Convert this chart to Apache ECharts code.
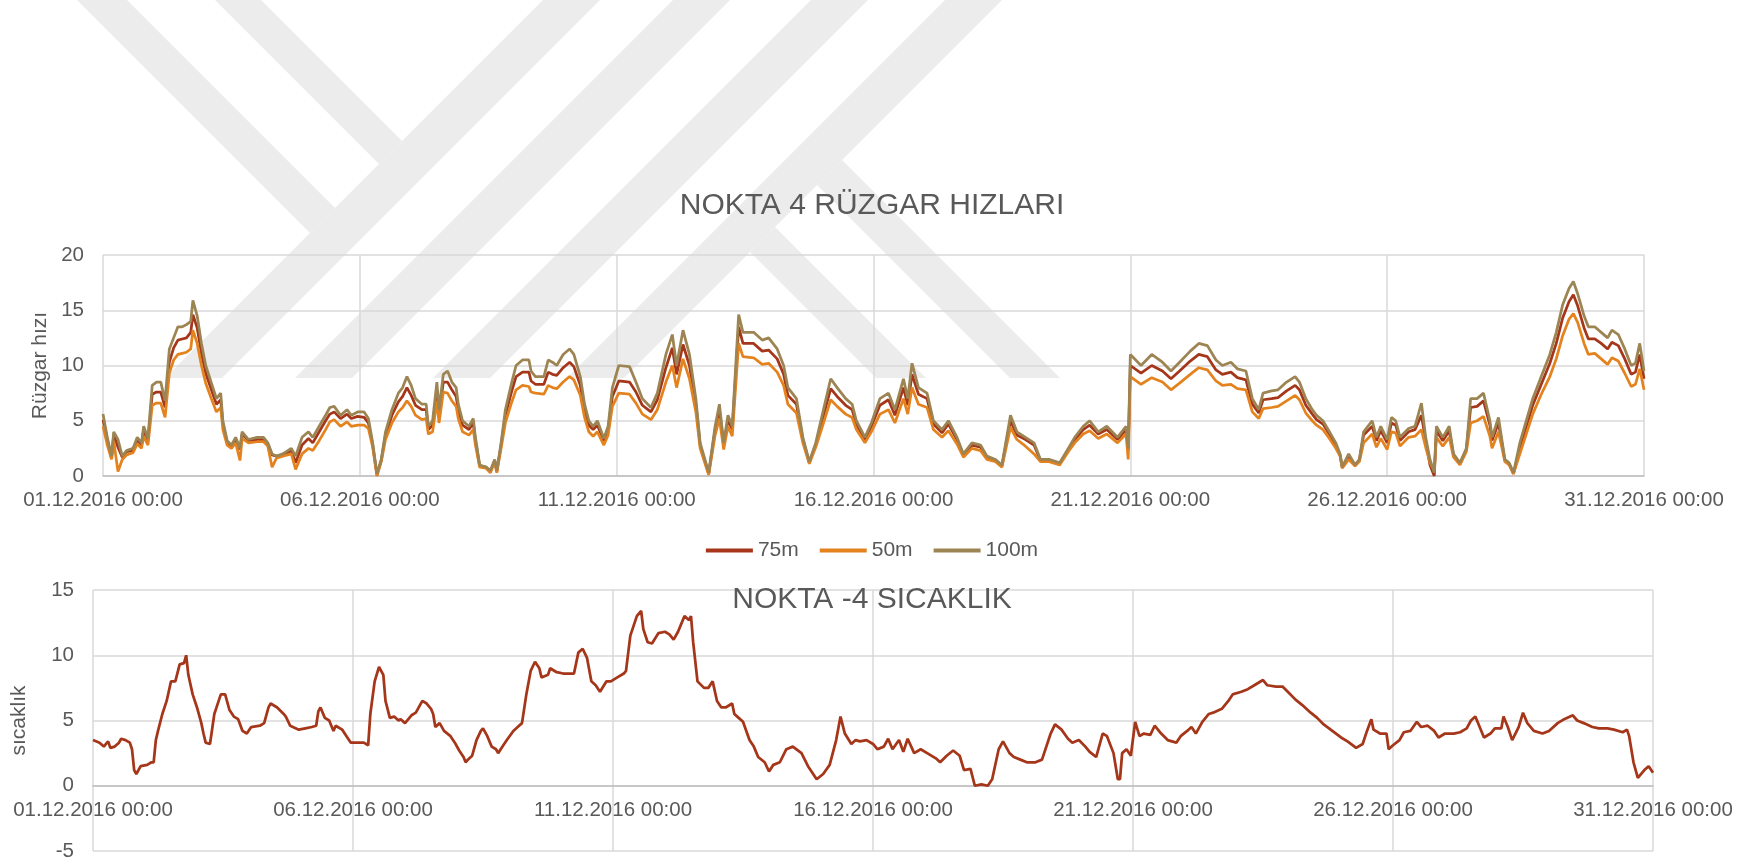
<!DOCTYPE html>
<html>
<head>
<meta charset="utf-8">
<title>NOKTA 4</title>
<script src="https://cdn.jsdelivr.net/npm/echarts@6/dist/echarts.min.js"></script>
<style>
  html, body { margin: 0; padding: 0; background: #fff; }
  #main { width: 1744px; height: 864px; }
</style>
</head>
<body>
<div id="main"></div>
<script>
// x ekseni: 01.12.2016 00:00'dan itibaren geçen saat (0..720)
const tickLabels = ['01.12.2016 00:00', '06.12.2016 00:00', '11.12.2016 00:00', '16.12.2016 00:00',
  '21.12.2016 00:00', '26.12.2016 00:00', '31.12.2016 00:00'];
const windNames = ['75m', '50m', '100m'];

const windHours = [
  0, 2, 4, 5, 7, 9, 11, 14, 16, 18,
  19, 21, 23, 25, 27, 29, 31, 33, 35, 37,
  39, 41, 42, 44, 46, 48, 51, 53, 55, 56,
  58, 60, 62, 64, 65, 68, 72, 75, 77, 79,
  81, 84, 88, 90, 93, 96, 98, 101, 104, 106,
  108, 111, 114, 116, 119, 122, 124, 126, 128, 130,
  132, 135, 138, 140, 142, 144, 146, 149, 151, 152,
  154, 156, 157, 159, 161, 163, 165, 166, 168, 171,
  173, 174, 176, 179, 181, 183, 184, 186, 188, 191,
  193, 196, 199, 200, 202, 206, 208, 210, 212, 215,
  218, 220, 223, 225, 227, 229, 231, 234, 236, 238,
  241, 246, 249, 252, 256, 259, 263, 266, 268, 271,
  274, 277, 279, 283, 286, 288, 290, 292, 294, 297,
  299, 304, 308, 311, 315, 318, 320, 324, 327, 330,
  333, 336, 340, 343, 347, 350, 352, 356, 359, 363,
  367, 370, 374, 376, 378, 381, 385, 388, 392, 395,
  399, 402, 406, 410, 413, 417, 420, 424, 427, 431,
  435, 438, 442, 447, 451, 454, 458, 461, 465, 469,
  474, 478, 479, 480, 485, 490, 495, 499, 503, 508,
  512, 516, 520, 523, 527, 530, 534, 537, 540, 542,
  546, 549, 553, 557, 559, 562, 565, 567, 570, 573,
  576, 578, 579, 582, 585, 587, 589, 593, 595, 597,
  600, 602, 604, 606, 610, 613, 616, 618, 620, 622,
  623, 626, 629, 631, 634, 637, 639, 642, 645, 648,
  649, 652, 655, 657, 659, 662, 665, 668, 672, 676,
  679, 682, 685, 687, 689, 692, 694, 697, 700, 703,
  705, 708, 711, 714, 716, 718, 720
];

const wind75 = [
  5.1, 3.3, 1.6, 3.7, 2.6, 1.7, 2.2, 2.3, 3.3, 2.8,
  4.2, 3.2, 7.4, 7.6, 7.6, 6.2, 10.3, 11.6, 12.3, 12.4,
  12.5, 13.0, 14.6, 13.4, 11.1, 9.3, 7.6, 6.5, 6.9, 4.7,
  3.0, 2.7, 3.3, 2.4, 3.8, 3.2, 3.3, 3.3, 2.9, 1.9,
  1.8, 1.9, 2.3, 1.2, 2.8, 3.4, 3.0, 4.0, 5.0, 5.6,
  5.8, 5.2, 5.6, 5.2, 5.4, 5.3, 4.8, 2.8, 0.1, 1.4,
  3.7, 5.5, 6.7, 7.2, 8.0, 7.3, 6.4, 6.0, 6.0, 4.2,
  4.6, 7.8, 5.5, 8.5, 8.5, 7.8, 7.2, 6.0, 4.6, 4.2,
  4.8, 3.2, 0.9, 0.8, 0.4, 1.4, 0.4, 2.8, 5.5, 7.7,
  9.0, 9.4, 9.4, 8.6, 8.3, 8.3, 9.4, 9.2, 9.1, 9.8,
  10.3, 9.9, 8.2, 6.0, 4.6, 4.2, 4.6, 3.2, 4.2, 7.2,
  8.6, 8.5, 7.6, 6.4, 5.8, 6.9, 9.8, 11.6, 9.2, 11.9,
  10.0, 6.5, 2.8, 0.2, 4.2, 6.0, 2.8, 5.1, 4.2, 13.5,
  12.0, 12.0, 11.3, 11.4, 10.6, 9.2, 7.3, 6.5, 3.3, 1.2,
  2.8, 5.0, 7.9, 7.2, 6.4, 6.0, 4.7, 3.3, 4.5, 6.4,
  6.9, 5.5, 8.0, 6.4, 9.2, 7.4, 7.0, 4.7, 3.9, 4.7,
  3.3, 1.9, 2.8, 2.6, 1.7, 1.4, 0.9, 5.0, 3.7, 3.3,
  2.8, 1.4, 1.4, 1.1, 2.4, 3.3, 4.2, 4.6, 3.8, 4.2,
  3.3, 4.2, 2.3, 10.0, 9.3, 10.0, 9.5, 8.8, 9.5, 10.4,
  11.0, 10.8, 9.6, 9.2, 9.4, 8.9, 8.7, 6.5, 5.7, 6.9,
  7.0, 7.1, 7.7, 8.2, 7.8, 6.4, 5.6, 5.1, 4.7, 3.8,
  2.8, 1.9, 0.8, 1.8, 1.0, 1.4, 3.7, 4.5, 3.2, 4.1,
  3.0, 4.8, 4.6, 3.2, 4.0, 4.2, 5.5, 3.2, 1.0, 0.0,
  4.1, 3.2, 4.1, 1.9, 1.1, 2.4, 6.2, 6.3, 6.8, 4.6,
  3.2, 4.8, 1.4, 1.1, 0.2, 2.5, 4.5, 6.4, 8.3, 10.2,
  12.0, 14.3, 15.8, 16.4, 15.4, 13.4, 12.4, 12.4, 12.0, 11.5,
  12.1, 11.8, 10.6, 9.2, 9.4, 11.0, 8.8
];

const wind50 = [
  4.5, 2.8, 1.5, 3.2, 0.4, 1.5, 1.9, 2.1, 2.9, 2.5,
  3.6, 2.8, 6.4, 6.6, 6.6, 5.3, 9.3, 10.5, 11.0, 11.1,
  11.2, 11.5, 13.2, 12.0, 10.0, 8.4, 6.8, 5.8, 6.2, 4.2,
  2.8, 2.5, 3.0, 1.4, 3.4, 3.0, 3.1, 3.1, 2.7, 0.8,
  1.6, 1.8, 2.0, 0.6, 2.0, 2.5, 2.3, 3.2, 4.2, 4.9,
  5.1, 4.5, 4.9, 4.5, 4.6, 4.6, 4.3, 2.6, 0.0, 1.3,
  3.3, 4.8, 5.8, 6.2, 6.8, 6.3, 5.5, 5.1, 5.2, 3.8,
  4.0, 6.8, 4.8, 7.6, 7.5, 6.8, 6.3, 5.2, 4.0, 3.7,
  4.2, 2.8, 0.8, 0.7, 0.3, 1.3, 0.3, 2.5, 4.8, 6.7,
  7.8, 8.2, 8.1, 7.6, 7.5, 7.4, 8.2, 8.0, 7.9, 8.5,
  9.0, 8.7, 7.3, 5.3, 4.0, 3.6, 4.0, 2.8, 3.7, 6.3,
  7.5, 7.4, 6.6, 5.6, 5.1, 6.0, 8.5, 10.0, 8.0, 10.6,
  8.8, 5.8, 2.5, 0.1, 3.7, 5.2, 2.4, 4.5, 3.6, 12.0,
  10.8, 10.7, 10.1, 10.2, 9.4, 8.2, 6.5, 5.7, 3.0, 1.1,
  2.6, 4.4, 6.9, 6.3, 5.6, 5.3, 4.2, 3.0, 4.0, 5.6,
  6.0, 4.8, 7.0, 5.6, 8.0, 6.5, 6.2, 4.2, 3.5, 4.1,
  2.9, 1.7, 2.5, 2.3, 1.5, 1.3, 0.8, 4.4, 3.3, 2.7,
  2.0, 1.3, 1.3, 1.0, 2.2, 3.0, 3.8, 4.1, 3.4, 3.8,
  3.0, 3.8, 1.5, 9.0, 8.3, 8.9, 8.5, 7.8, 8.4, 9.2,
  9.8, 9.6, 8.6, 8.2, 8.3, 7.9, 7.8, 5.8, 5.2, 6.1,
  6.2, 6.3, 6.8, 7.3, 6.9, 5.7, 5.0, 4.6, 4.2, 3.4,
  2.5, 1.8, 0.7, 1.5, 0.9, 1.3, 3.0, 3.8, 2.6, 3.4,
  2.4, 4.0, 3.9, 2.7, 3.5, 3.6, 4.2, 2.6, 1.2, 0.5,
  3.5, 2.7, 3.5, 1.7, 1.0, 2.2, 4.8, 5.0, 5.4, 3.6,
  2.5, 4.0, 1.3, 1.0, 0.2, 2.0, 3.8, 5.6, 7.4, 9.0,
  10.6, 12.7, 14.2, 14.7, 13.9, 12.0, 11.0, 11.1, 10.6, 10.1,
  10.7, 10.4, 9.3, 8.1, 8.3, 9.7, 7.8
];

const wind100 = [
  5.6, 3.5, 1.8, 4.0, 3.3, 1.8, 2.3, 2.5, 3.5, 3.0,
  4.5, 3.4, 8.2, 8.5, 8.5, 6.8, 11.5, 12.5, 13.5, 13.5,
  13.7, 14.0, 15.9, 14.5, 12.0, 10.0, 8.2, 7.0, 7.5, 5.0,
  3.2, 2.8, 3.5, 2.5, 4.0, 3.3, 3.5, 3.5, 3.0, 2.0,
  1.8, 2.0, 2.5, 1.8, 3.5, 4.0, 3.5, 4.5, 5.5, 6.2,
  6.3, 5.5, 6.0, 5.5, 5.8, 5.8, 5.2, 3.0, 0.2, 1.5,
  4.0, 6.0, 7.5, 8.0, 9.0, 8.2, 7.0, 6.5, 6.5, 4.5,
  5.0, 8.5, 6.0, 9.2, 9.5, 8.5, 8.0, 6.5, 5.0, 4.5,
  5.2, 3.5, 1.0, 0.8, 0.5, 1.5, 0.5, 3.0, 6.0, 8.5,
  10.0, 10.5, 10.5, 9.5, 9.0, 9.0, 10.5, 10.3, 10.0, 11.0,
  11.5, 11.0, 9.0, 6.5, 5.0, 4.5, 5.0, 3.4, 4.5, 8.0,
  10.0, 9.9, 8.5, 7.0, 6.2, 7.5, 11.0, 12.8, 10.0, 13.2,
  11.0, 7.0, 3.0, 0.3, 4.5, 6.5, 3.0, 5.5, 4.5, 14.6,
  13.0, 13.0, 12.3, 12.5, 11.5, 10.0, 8.0, 7.0, 3.5, 1.3,
  3.0, 5.5, 8.8, 8.0, 7.0, 6.5, 5.0, 3.5, 4.8, 7.0,
  7.5, 6.0, 8.8, 7.0, 10.2, 8.0, 7.5, 5.0, 4.2, 5.0,
  3.5, 2.0, 3.0, 2.8, 1.8, 1.5, 1.0, 5.5, 4.0, 3.5,
  3.0, 1.5, 1.5, 1.2, 2.5, 3.5, 4.5, 5.0, 4.0, 4.5,
  3.5, 4.5, 2.5, 11.0, 10.0, 11.0, 10.3, 9.5, 10.3, 11.3,
  12.0, 11.8, 10.5, 10.0, 10.3, 9.7, 9.5, 7.0, 6.0, 7.5,
  7.7, 7.8, 8.5, 9.0, 8.5, 7.0, 6.0, 5.5, 5.0, 4.0,
  3.0, 2.0, 0.8, 2.0, 1.0, 1.5, 4.0, 5.0, 3.5, 4.5,
  3.3, 5.3, 5.0, 3.5, 4.3, 4.5, 6.6, 3.5, 1.5, 0.3,
  4.5, 3.5, 4.5, 2.0, 1.2, 2.5, 7.0, 7.0, 7.5, 5.0,
  3.5, 5.3, 1.5, 1.2, 0.3, 3.0, 5.0, 7.0, 9.0, 11.0,
  13.0, 15.5, 17.0, 17.6, 16.5, 14.5, 13.5, 13.5, 13.0, 12.5,
  13.2, 12.8, 11.5, 10.0, 10.2, 12.0, 9.5
];

// sıcaklık (NOKTA -4)
const tempHours = [
  0, 3, 5, 6, 7, 8, 10, 12, 13, 15, 17, 18, 19, 20, 22, 25, 27, 28, 29, 30,
  32, 34, 36, 38, 40, 42, 43, 44, 46, 48, 50, 51, 52, 54, 56, 58, 59, 61, 63, 65,
  67, 69, 71, 73, 77, 79, 81, 82, 85, 88, 89, 91, 95, 98, 101, 103, 104, 105, 107, 109,
  111, 112, 115, 117, 119, 122, 125, 127, 128, 130, 132, 134, 135, 137, 139, 141, 142, 144, 147, 149,
  152, 154, 156, 157, 158, 160, 162, 165, 167, 169, 171, 172, 173, 175, 177, 179, 180, 182, 184, 186,
  187, 189, 191, 194, 196, 198, 200, 202, 204, 206, 207, 210, 211, 214, 217, 219, 222, 224, 226, 228,
  230, 232, 234, 237, 239, 242, 245, 246, 248, 251, 253, 254, 256, 258, 261, 264, 266, 268, 270, 273,
  275, 276, 277, 279, 282, 284, 286, 288, 290, 292, 295, 296, 298, 300, 303, 305, 307, 310, 312, 314,
  317, 320, 323, 327, 330, 334, 337, 340, 343, 345, 347, 350, 352, 354, 357, 360, 362, 365, 367, 369,
  372, 374, 376, 379, 382, 385, 389, 391, 394, 397, 400, 402, 405, 407, 410, 413, 415, 418, 420, 423,
  425, 428, 431, 435, 438, 442, 444, 447, 450, 452, 455, 458, 460, 463, 466, 468, 471, 473, 474, 475,
  477, 479, 481, 483, 485, 488, 490, 493, 496, 500, 502, 505, 507, 509, 512, 515, 517, 521, 524, 526,
  530, 533, 536, 540, 542, 546, 549, 552, 555, 558, 562, 565, 568, 572, 576, 579, 583, 586, 588, 590,
  591, 594, 597, 598, 600, 603, 605, 608, 611, 613, 616, 619, 621, 624, 628, 631, 634, 636, 638, 640,
  642, 645, 647, 650, 651, 653, 655, 658, 660, 662, 665, 669, 672, 676, 679, 683, 685, 688, 692, 695,
  699, 702, 706, 708, 709, 711, 713, 716, 718, 720
];

const temp = [
  3.5, 3.3, 3.0, 3.2, 3.4, 2.9, 3.0, 3.3, 3.6, 3.5, 3.3, 2.8, 1.2, 0.9, 1.5, 1.6, 1.8, 1.8, 3.5, 4.2,
  5.5, 6.5, 8.0, 8.0, 9.3, 9.4, 10.0, 8.5, 7.0, 6.0, 4.8, 4.0, 3.3, 3.2, 5.5, 6.5, 7.0, 7.0, 5.8, 5.3,
  5.1, 4.2, 4.0, 4.5, 4.6, 4.8, 6.0, 6.3, 6.0, 5.5, 5.3, 4.6, 4.3, 4.4, 4.5, 4.6, 5.7, 6.0, 5.2, 5.0,
  4.2, 4.6, 4.3, 3.8, 3.3, 3.3, 3.3, 3.1, 5.5, 8.0, 9.1, 8.5, 6.5, 5.2, 5.3, 5.0, 5.1, 4.8, 5.4, 5.6,
  6.5, 6.3, 5.9, 5.5, 4.5, 4.8, 4.2, 3.8, 3.3, 2.7, 2.2, 1.8, 2.0, 2.3, 3.5, 4.2, 4.4, 3.8, 3.0, 2.8,
  2.5, 3.0, 3.5, 4.2, 4.5, 4.8, 7.0, 8.8, 9.5, 9.0, 8.3, 8.5, 9.0, 8.7, 8.6, 8.6, 8.6, 10.2, 10.5, 9.8,
  8.0, 7.7, 7.2, 8.0, 8.0, 8.3, 8.6, 8.8, 11.5, 13.0, 13.4, 12.0, 11.0, 10.9, 11.7, 11.8, 11.6, 11.2, 11.8, 13.0,
  12.7, 13.0, 11.0, 8.0, 7.5, 7.5, 8.0, 6.5, 6.0, 6.0, 6.3, 5.5, 5.2, 4.9, 3.5, 3.0, 2.2, 1.8, 1.1, 1.6,
  1.8, 2.8, 3.0, 2.5, 1.5, 0.5, 0.9, 1.6, 3.5, 5.3, 4.0, 3.2, 3.5, 3.4, 3.5, 3.2, 2.8, 3.0, 3.6, 2.8,
  3.5, 2.6, 3.6, 2.5, 2.8, 2.5, 2.1, 1.8, 2.3, 2.7, 2.3, 1.2, 1.3, 0.0, 0.1, 0.0, 0.5, 2.8, 3.4, 2.5,
  2.2, 2.0, 1.8, 1.8, 2.0, 4.0, 4.7, 4.3, 3.6, 3.3, 3.5, 3.0, 2.6, 2.2, 4.0, 3.8, 2.5, 0.5, 0.5, 2.5,
  2.8, 2.3, 4.9, 3.8, 4.0, 3.9, 4.6, 4.0, 3.5, 3.3, 3.8, 4.2, 4.5, 4.0, 4.9, 5.5, 5.6, 5.9, 6.5, 7.0,
  7.2, 7.4, 7.7, 8.1, 7.7, 7.6, 7.6, 7.1, 6.6, 6.2, 5.6, 5.2, 4.7, 4.2, 3.7, 3.4, 2.9, 3.2, 4.2, 5.1,
  4.3, 4.0, 4.0, 2.8, 3.1, 3.5, 4.1, 4.2, 4.9, 4.5, 4.6, 4.2, 3.7, 4.0, 4.0, 4.1, 4.4, 5.0, 5.3, 4.5,
  3.7, 4.0, 4.4, 4.4, 5.3, 4.5, 3.5, 4.5, 5.6, 4.8, 4.2, 4.0, 4.2, 4.8, 5.1, 5.4, 5.0, 4.8, 4.5, 4.4,
  4.4, 4.3, 4.1, 4.3, 3.8, 1.8, 0.6, 1.2, 1.5, 1.0
];

// sayfa filigranı (açık gri şeritler), piksel koordinatları
const watermarkBands = [
  [[77, 0], [127, 0], [335, 208], [310, 233]],
  [[215, 0], [261, 0], [402, 141], [379, 164]],
  [[543, 0], [600, 0], [222, 378], [165, 378]],
  [[673, 0], [730, 0], [352, 378], [295, 378]],
  [[811, 0], [868, 0], [490, 378], [433, 378]],
  [[945, 0], [1002, 0], [624, 378], [567, 378]],
  [[842, 160], [1060, 378], [1010, 378], [817, 185]],
  [[775, 227], [926, 378], [876, 378], [750, 252]]
];

const chart = echarts.init(document.getElementById('main'));
const gray = '#595959';
const font = "'Liberation Sans', Arial, sans-serif";
const colors = { '75m': '#A5361A', '50m': '#E4821E', '100m': '#9C8453' };
const pairs = (xs, ys) => xs.map((x, i) => [x, ys[i]]);

function timeAxis(gridIndex, offset) {
  return {
    type: 'value', gridIndex: gridIndex, min: 0, max: 720, interval: 120,
    offset: offset,
    axisLine: { onZero: false, lineStyle: { color: '#BFBFBF', width: 1.5 } },
    axisTick: { show: false },
    axisLabel: {
      color: gray, fontFamily: font, fontSize: 20.5, margin: 14,
      formatter: v => tickLabels[Math.round(v / 120)]
    },
    splitLine: { show: true, lineStyle: { color: '#D9D9D9', width: 1.5 } }
  };
}

function valueAxis(gridIndex, min, max, name, gap) {
  return {
    type: 'value', gridIndex: gridIndex, min: min, max: max, interval: 5,
    axisLine: { show: false, onZero: false },
    axisTick: { show: false },
    axisLabel: { color: gray, fontFamily: font, fontSize: 20.5, margin: 19 },
    splitLine: { lineStyle: { color: '#D9D9D9', width: 1.5 } },
    name: name, nameLocation: 'middle', nameGap: gap,
    nameTextStyle: { color: gray, fontFamily: font, fontSize: 21 }
  };
}

const windSeries = [wind75, wind50, wind100].map((vals, i) => ({
  name: windNames[i],
  type: 'line',
  xAxisIndex: 0, yAxisIndex: 0,
  data: pairs(windHours, vals),
  showSymbol: false,
  color: colors[windNames[i]],
  lineStyle: { width: 2.75, color: colors[windNames[i]] }
}));

// alt grafik: 261 px yükseklik, -5..15 aralığı -> 0 çizgisi alttan 65.3 px yukarıda
const bottomHeight = 261;
const zeroOffset = -bottomHeight * 5 / 20;

chart.setOption({
  animation: false,
  backgroundColor: '#ffffff',
  graphic: {
    elements: watermarkBands.map(pts => ({
      type: 'polygon', z: -10, silent: true,
      shape: { points: pts },
      style: { fill: '#ECECEC' }
    }))
  },
  title: [
    { text: 'NOKTA 4 RÜZGAR HIZLARI', left: 'center', top: 191, padding: 0,
      textStyle: { color: gray, fontFamily: font, fontSize: 30, fontWeight: 'normal' } },
    { text: 'NOKTA -4 SICAKLIK', left: 'center', top: 585, padding: 0,
      textStyle: { color: gray, fontFamily: font, fontSize: 30, fontWeight: 'normal' } }
  ],
  legend: {
    data: windNames, left: 'center', top: 535,
    icon: 'rect', itemWidth: 47, itemHeight: 4, itemGap: 21,
    textStyle: { color: gray, fontFamily: font, fontSize: 21 }
  },
  grid: [
    { left: 103, top: 255, width: 1541, height: 221 },
    { left: 93, top: 590, width: 1560, height: bottomHeight }
  ],
  xAxis: [timeAxis(0, 0), timeAxis(1, zeroOffset)],
  yAxis: [
    valueAxis(0, 0, 20, 'Rüzgar hızı', 52),
    valueAxis(1, -5, 15, 'sıcaklık', 63)
  ],
  series: windSeries.concat([{
    name: 'sıcaklık',
    type: 'line',
    xAxisIndex: 1, yAxisIndex: 1,
    data: pairs(tempHours, temp),
    showSymbol: false,
    color: '#A5361A',
    lineStyle: { width: 2.75, color: '#A5361A' }
  }])
});
</script>
</body>
</html>
